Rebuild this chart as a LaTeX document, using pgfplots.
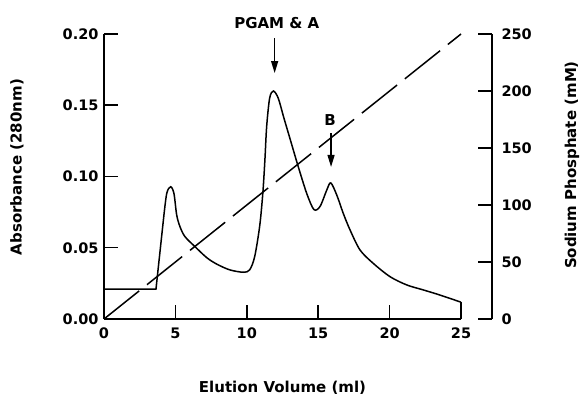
\documentclass[border=0pt]{standalone}
\usepackage{fontspec}
\setmainfont{DejaVu Sans}
\usepackage{pgfplots}
\pgfplotsset{compat=1.18}
\usetikzlibrary{arrows.meta}
\pgfplotsset{/pgf/number format/assume math mode=true}
\begin{document}
\begin{tikzpicture}[font=\fontsize{14.5}{17}\selectfont\bfseries]
\useasboundingbox (0,0) rectangle (581pt,398pt);
\begin{axis}[
  at={(104pt,79pt)}, anchor=south west,
  scale only axis, width=357pt, height=285pt,
  xmin=0, xmax=25, ymin=0, ymax=0.2,
  axis x line*=bottom, axis y line*=left,
  axis line style={line width=1.6pt, -},
  tick style={line width=1.5pt, black},
  major tick length=14pt,
  tick align=inside,
  xtick={0,5,10,15,20,25}, ytick={0,0.05,0.1,0.15,0.2},
  yticklabel style={/pgf/number format/fixed, /pgf/number format/fixed zerofill, /pgf/number format/precision=2, xshift=-2pt},
  xticklabel style={yshift=-5pt},
  xlabel={Elution Volume (ml)},
  xlabel style={at={(axis description cs:0.5,-0.2421)}, anchor=center, font=\fontsize{15}{18}\selectfont\bfseries},
  ylabel={Absorbance (280nm)},
  ylabel style={at={(axis description cs:-0.2437,0.533)}, anchor=center, font=\fontsize{15}{18}\selectfont\bfseries},
  clip=false,
]
\addplot[line width=1.5pt, sharp plot] coordinates {(0,0.021) (3.64,0.021) (4.16,0.0695)};
\addplot[line width=1.5pt, smooth, tension=0.5] coordinates {
(4.16,0.0695) (4.39,0.088) (4.67,0.0928) (4.90,0.088) (5.09,0.073) (5.32,0.0648) (5.67,0.0578)
(6.4,0.0505) (7.2,0.0430) (7.9,0.0385) (8.8,0.0345) (9.76,0.0328) (10.2,0.0345) (10.55,0.0437)
(10.9,0.065) (11.12,0.088) (11.27,0.112) (11.39,0.135) (11.6,0.155) (11.86,0.1600) (12.2,0.155)
(12.6,0.141) (13.1,0.124) (13.6,0.107) (14.2,0.088) (14.7,0.0768) (15.13,0.0790) (15.6,0.0905)
(15.88,0.0955) (16.3,0.087) (16.76,0.074) (17.23,0.0625) (17.93,0.0484) (18.86,0.039) (20.03,0.0297)
(21.2,0.0239) (22.36,0.0204) (23.53,0.0168) (25,0.0118)};
\addplot[line width=1.5pt, sharp plot] coordinates {(25,0.0118) (25,0)};
\node[font=\fontsize{15}{18}\selectfont\bfseries] at (axis cs:12.1,0.2077) {PGAM \& A};
\draw[line width=1.3pt, -{Triangle[length=12pt,width=7pt]}] (axis cs:11.95,0.197) -- (axis cs:11.95,0.1726);
\node[font=\fontsize{15}{18}\selectfont\bfseries] at (axis cs:15.83,0.1396) {B};
\draw[line width=1.3pt, -{Triangle[length=12pt,width=7pt]}] (axis cs:15.9,0.1305) -- (axis cs:15.9,0.1067);
\end{axis}
\begin{axis}[
  at={(104pt,79pt)}, anchor=south west,
  scale only axis, width=388pt, height=285pt,
  xmin=0, xmax=27.17, ymin=0, ymax=250,
  hide x axis, axis y line*=right,
  axis line style={line width=1.6pt, -},
  tick style={line width=1.5pt, black},
  major tick length=14pt,
  tick align=inside,
  ytick={0,50,100,150,200,250},
  yticklabel style={xshift=6pt},
  ylabel={Sodium Phosphate (mM)},
  ylabel style={at={(axis description cs:1.206,0.54)}, anchor=center, font=\fontsize{15}{18}\selectfont\bfseries},
  clip=false,
]
\addplot[line width=1.5pt, dash pattern=on 45pt off 10pt] coordinates {(0,0) (25,250)};
\end{axis}
\end{tikzpicture}
\end{document}
